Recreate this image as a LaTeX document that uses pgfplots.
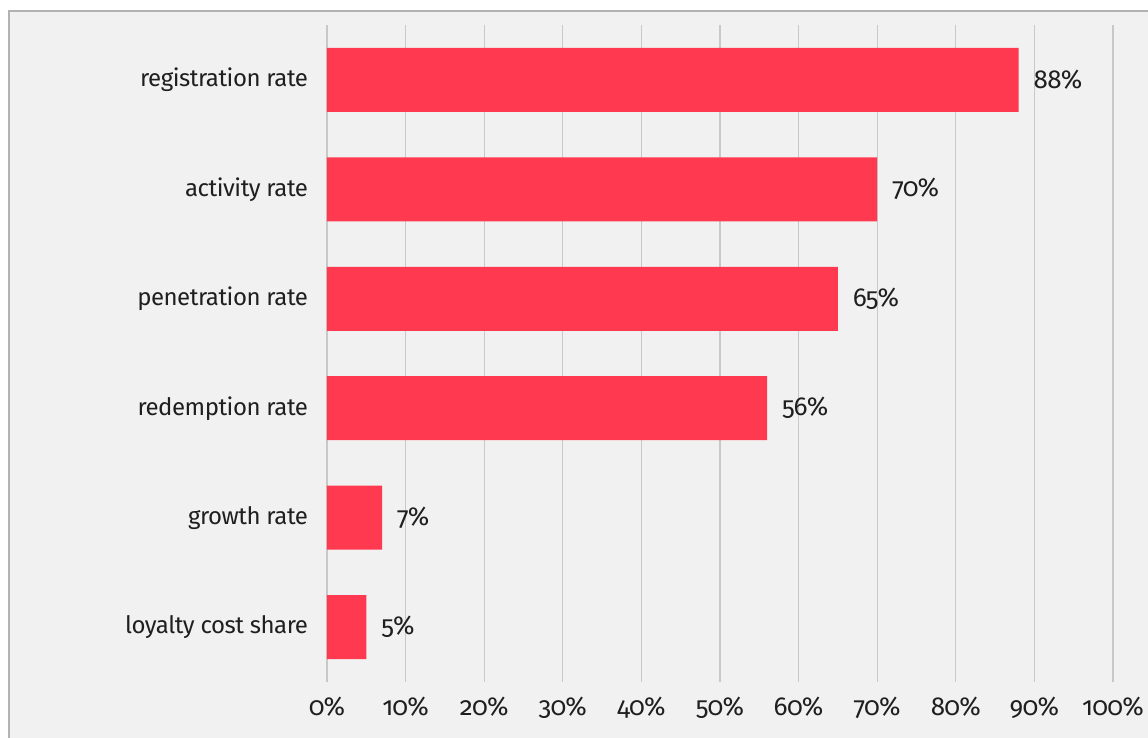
\documentclass[border=0pt]{standalone}
\usepackage{fontspec}
\setmainfont[Numbers=OldStyle]{Fira Sans}
\usepackage{pgfplots}
\pgfplotsset{compat=1.18}
\definecolor{barred}{RGB}{255,58,80}
\definecolor{bg}{RGB}{241,241,241}
\definecolor{gridc}{RGB}{200,200,200}
\definecolor{framec}{RGB}{178,178,178}
\begin{document}
\begin{tikzpicture}
\useasboundingbox (-163.5pt,-28pt) rectangle (410.5pt,341pt);
\fill[white] (-163.5pt,-28pt) rectangle (410.5pt,341pt);
\fill[bg] (-159pt,-30pt) rectangle (412pt,335.5pt);
\draw[framec, line width=0.8pt] (-159pt,-30pt) -- (-159pt,335.5pt) -- (412pt,335.5pt);
\begin{axis}[
  xbar,
  scale only axis,
  width=393pt, height=328.5pt,
  xmin=0, xmax=100,
  ymin=-0.5, ymax=5.5,
  bar width=32pt,
  axis line style={draw=none},
  major tick length=0pt,
  xtick={0,10,...,100},
  ytick={0,1,2,3,4,5},
  yticklabels={loyalty cost share, growth rate, redemption rate, penetration rate, activity rate, registration rate},
  xmajorgrids,
  major grid style={gridc, line width=0.6pt},
  /pgf/number format/assume math mode=true,
  xticklabel={\pgfmathprintnumber{\tick}\%},
  yticklabel style={font=\fontsize{12}{14}\selectfont\addfontfeatures{LetterSpace=-2}, text=black!88, xshift=-6pt},
  xticklabel style={font=\fontsize{13}{15}\selectfont\addfontfeatures{LetterSpace=-3}, text=black!88, yshift=-4pt},
  nodes near coords={\pgfmathprintnumber{\pgfplotspointmeta}\%},
  nodes near coords style={font=\fontsize{13}{15}\selectfont\addfontfeatures{LetterSpace=-3}, text=black!88, xshift=4pt},
  clip=false,
]
\addplot[fill=barred, draw=none] coordinates {
  (5,0) (7,1) (56,2) (65,3) (70,4) (88,5)
};
\end{axis}
\end{tikzpicture}
\end{document}
